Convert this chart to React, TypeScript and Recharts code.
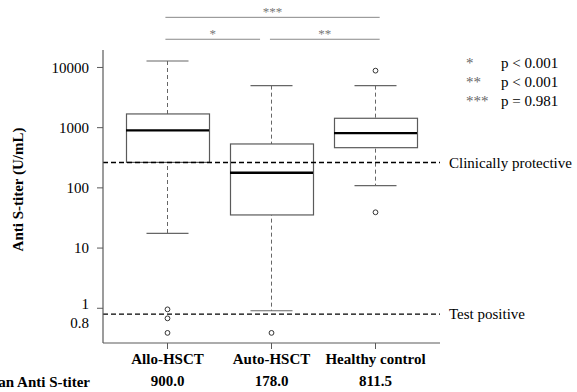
import { ComposedChart, Bar, Scatter, XAxis, YAxis, ReferenceLine, Label, Customized } from 'recharts';

// box plot stats (U/mL, log scale)
const groups = ['Allo-HSCT', 'Auto-HSCT', 'Healthy control'];
const meanLabels = ['900.0', '178.0', '811.5'];
const whiskerLow = [17.6, 0.91, 109];
const q1 = [265, 35.5, 465];
const median = [900, 178, 811.5];
const q3 = [1690, 536, 1432];
const whiskerHigh = [12800, 4990, 4990];
const outliers = [[0.96, 0.68, 0.39], [0.39], [8850, 39.3]];

const yTicks = [0.8, 1, 10, 100, 1000, 10000];
const protectiveLevel = 264;
const positiveLevel = 0.8;

// significance brackets: label, from, to (group index units), height
const bracketLabels = ['***', '*', '**'];
const bracketFrom = [-0.02, -0.02, 0.985];
const bracketTo = [2.04, 0.89, 2.04];
const bracketLevel = [68000, 29400, 29400];

const pStars = ['*', '**', '***'];
const pTexts = ['p < 0.001', 'p < 0.001', 'p = 0.981'];

const FONT = 'Liberation Serif';
const GRAY = '#5a5a5a';

const data = groups.map((g, i) => ({
  idx: i,
  group: g,
  mean: meanLabels[i],
  whisker: [whiskerLow[i], whiskerHigh[i]],
  box: [q1[i], q3[i]],
  median: median[i],
  out0: outliers[i][0] ?? null,
  out1: outliers[i][1] ?? null,
  out2: outliers[i][2] ?? null,
}));

const WhiskerShape = (props: any) => {
  const { x, y, width, height } = props;
  const cx = x + width / 2;
  const top = Math.min(y, y + height);
  const bot = Math.max(y, y + height);
  return (
    <g>
      <line x1={cx} x2={cx} y1={top} y2={bot} stroke="#666" strokeDasharray="4 3" />
      <line x1={x} x2={x + width} y1={top} y2={top} stroke="#666" strokeWidth={1.2} />
      <line x1={x} x2={x + width} y1={bot} y2={bot} stroke="#666" strokeWidth={1.2} />
    </g>
  );
};

const BoxShape = (props: any) => {
  const { x, y, width, height } = props;
  return (
    <rect
      x={x}
      y={Math.min(y, y + height)}
      width={width}
      height={Math.abs(height)}
      fill="#fff"
      stroke={GRAY}
      strokeWidth={1.2}
    />
  );
};

const MedianShape = (props: any) => {
  const { cx, cy } = props;
  if (cx == null || cy == null || isNaN(cy)) return null;
  return <line x1={cx - 41.5} x2={cx + 41.5} y1={cy} y2={cy} stroke="#000" strokeWidth={2.4} />;
};

const OutlierShape = (props: any) => {
  const { cx, cy } = props;
  if (cx == null || cy == null || isNaN(cy)) return null;
  return <circle cx={cx} cy={cy} r={2.4} fill="none" stroke="#333" strokeWidth={1} />;
};

const YTick = ({ x, y, payload }: any) => {
  const v = payload.value;
  const shift = v === 1 ? -5 : v === 0.8 ? 9 : 0;
  return (
    <g>
      {v !== 0.8 && <line x1={x + 8} x2={x + 14} y1={y} y2={y} stroke={GRAY} />}
      <text x={x} y={y + shift} dy="0.35em" textAnchor="end" fontSize={15} style={{ fontFamily: FONT }} fill="#000">
        {v}
      </text>
    </g>
  );
};

const XTick = ({ x, y, payload, index }: any) => (
  <g style={{ fontFamily: FONT }}>
    <text x={x} y={y} dy={15} textAnchor="middle" fontSize={15} fontWeight="bold" fill="#000">
      {payload.value}
    </text>
    <text x={x} y={y} dy={37} textAnchor="middle" fontSize={15} fontWeight="bold" fill="#000">
      {meanLabels[index]}
    </text>
  </g>
);

const PLegend = () => (
  <g style={{ fontFamily: FONT }} fontSize={15}>
    {pStars.map((s, i) => (
      <g key={s}>
        <text x={466} y={68 + i * 18.8} fill="#666">{s}</text>
        <text x={501} y={68 + i * 18.8} fill="#000">{pTexts[i]}</text>
      </g>
    ))}
  </g>
);

export default function App() {
  return (
    <div style={{ position: 'absolute', left: 0, top: 0, fontFamily: FONT }}>
      <ComposedChart
        width={577}
        height={392}
        data={data}
        margin={{ top: 50, right: 137, bottom: 0, left: 0 }}
        style={{ fontFamily: FONT }}
      >
        <XAxis
          xAxisId="box"
          dataKey="group"
          height={49}
          padding={{ left: 12.5, right: 12.5 }}
          axisLine={{ stroke: GRAY, strokeWidth: 1.2 }}
          tickLine={{ stroke: GRAY }}
          tickSize={6}
          tickMargin={0}
          tick={<XTick />}
          interval={0}
        >
          <Label
            value="Mean Anti S-titer"
            position="left"
            offset={13}
            dy={14}
            fontSize={15}
            fontWeight="bold"
            fontFamily={FONT}
            fill="#000"
          />
        </XAxis>
        <XAxis
          xAxisId="wh"
          dataKey="group"
          orientation="top"
          height={0}
          padding={{ left: 12.5, right: 12.5 }}
          axisLine={{ stroke: GRAY, strokeWidth: 1.2 }}
          tick={false}
          tickLine={false}
        />
        <XAxis
          xAxisId="pos"
          dataKey="idx"
          type="number"
          domain={['dataMin', 'dataMax']}
          padding={{ left: 64.5, right: 64.5 }}
          allowDataOverflow
          hide
        />
        <YAxis
          scale="log"
          type="number"
          domain={[0.265, 19500]}
          allowDataOverflow
          ticks={yTicks}
          width={103}
          axisLine={{ stroke: GRAY, strokeWidth: 1.2 }}
          tickLine={false}
          tickSize={6}
          tickMargin={8}
          tick={<YTick />}
          interval={0}
        >
          <Label
            content={({ viewBox }: any) => (
              <text
                x={viewBox.x + 18}
                y={viewBox.y + viewBox.height / 2 - 7}
                transform={`rotate(-90, ${viewBox.x + 18}, ${viewBox.y + viewBox.height / 2 - 7})`}
                textAnchor="middle"
                dominantBaseline="central"
                fontSize={15}
                fontWeight="bold"
                style={{ fontFamily: FONT }}
                fill="#000"
              >
                Anti S-titer (U/mL)
              </text>
            )}
          />
        </YAxis>
        <YAxis
          yAxisId="right"
          orientation="right"
          width={0}
          tick={false}
          tickLine={false}
          axisLine={{ stroke: GRAY, strokeWidth: 1.2 }}
        />

        <Bar xAxisId="wh" dataKey="whisker" barSize={42} shape={<WhiskerShape />} isAnimationActive={false} />
        <Bar xAxisId="box" dataKey="box" barSize={83} shape={<BoxShape />} isAnimationActive={false} />
        <Scatter xAxisId="box" dataKey="median" shape={<MedianShape />} isAnimationActive={false} />
        <Scatter xAxisId="box" dataKey="out0" shape={<OutlierShape />} isAnimationActive={false} />
        <Scatter xAxisId="box" dataKey="out1" shape={<OutlierShape />} isAnimationActive={false} />
        <Scatter xAxisId="box" dataKey="out2" shape={<OutlierShape />} isAnimationActive={false} />

        <ReferenceLine xAxisId="box" y={protectiveLevel} stroke="#000" strokeWidth={1.3} strokeDasharray="5 3">
          <Label value="Clinically protective" position="right" offset={9} fontSize={15} fontFamily={FONT} fill="#000" />
        </ReferenceLine>
        <ReferenceLine xAxisId="box" y={positiveLevel} stroke="#000" strokeWidth={1.3} strokeDasharray="5 3">
          <Label value="Test positive" position="right" offset={9} fontSize={15} fontFamily={FONT} fill="#000" />
        </ReferenceLine>

        {bracketLabels.map((lab, i) => (
          <ReferenceLine
            key={lab}
            xAxisId="pos"
            ifOverflow="visible"
            segment={[
              { x: bracketFrom[i], y: bracketLevel[i] },
              { x: bracketTo[i], y: bracketLevel[i] },
            ]}
            stroke="#888"
            strokeWidth={1}
          >
            <Label value={lab} position="top" offset={1} fontSize={13} fontFamily={FONT} fill="#777" />
          </ReferenceLine>
        ))}

        <Customized component={<PLegend />} />
      </ComposedChart>
    </div>
  );
}
